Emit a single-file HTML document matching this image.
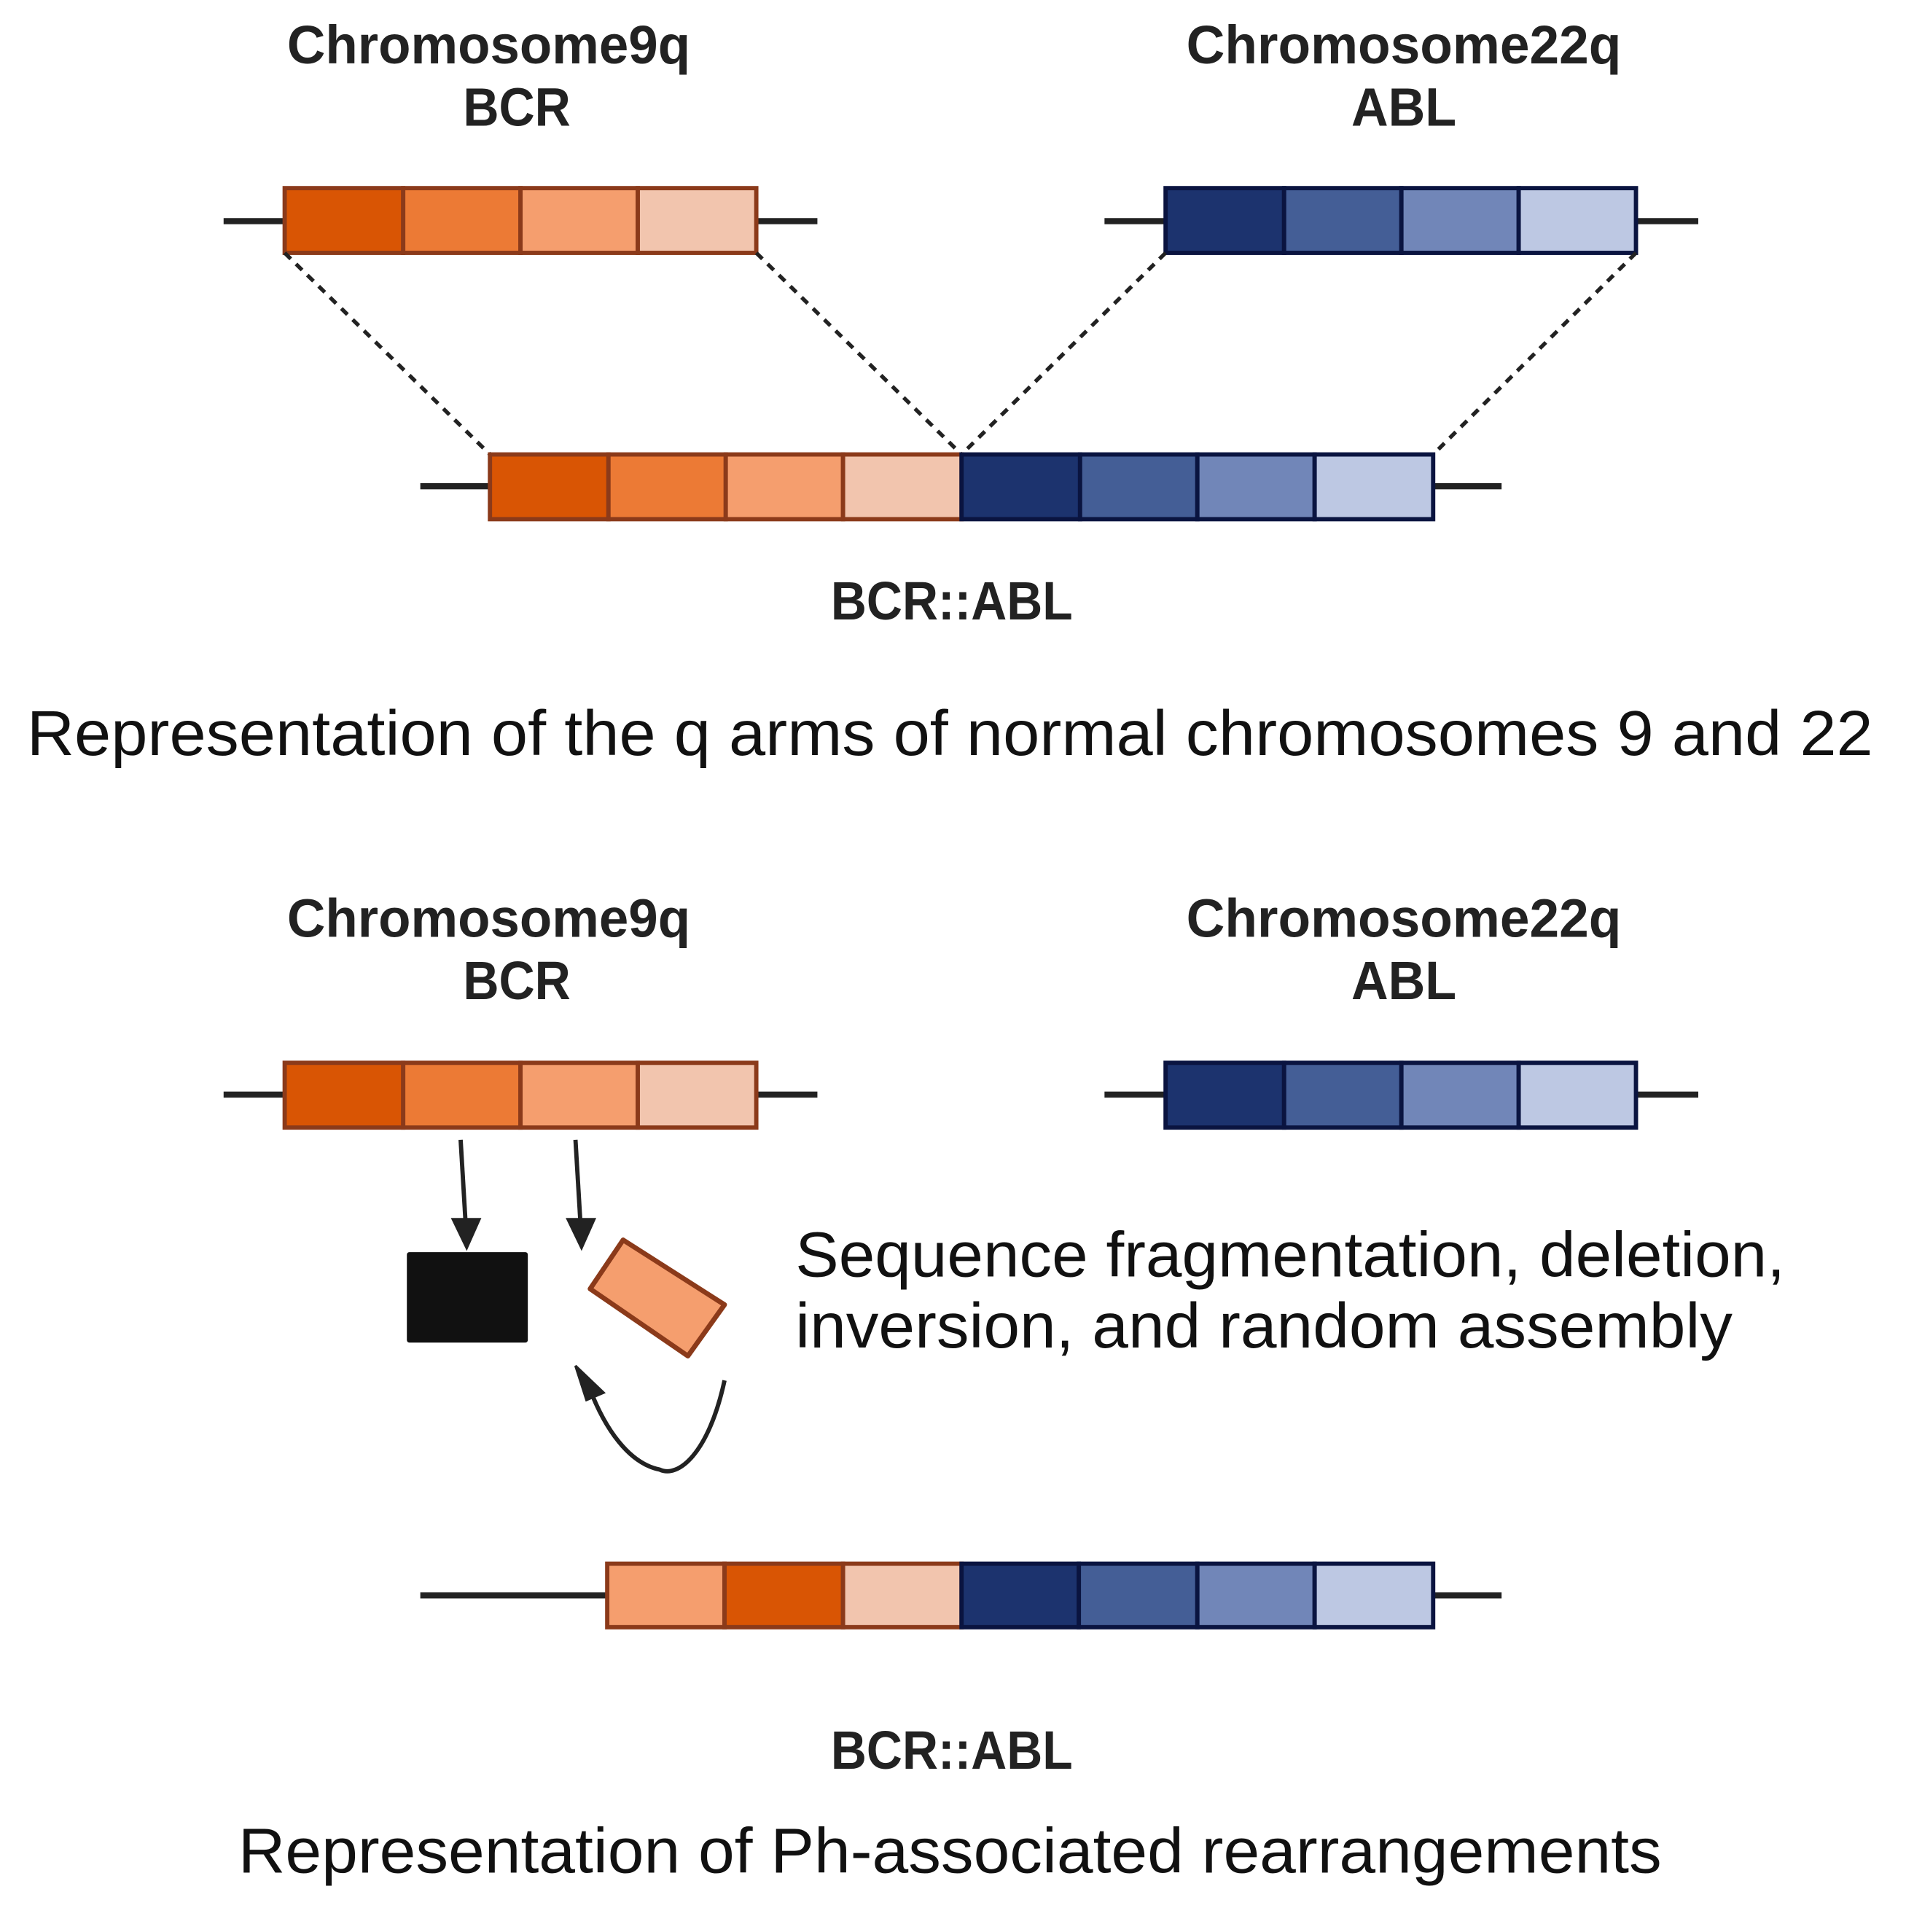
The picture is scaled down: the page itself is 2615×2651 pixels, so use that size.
<!DOCTYPE html>
<html><head><meta charset="utf-8"><style>
html,body{margin:0;padding:0;background:#fff;}
svg{display:block;}
.b{font-family:"Liberation Sans",sans-serif;font-weight:bold;fill:#222;font-size:44px;}
.n{font-family:"Liberation Sans",sans-serif;fill:#111;font-size:52px;}
</style></head><body>
<svg width="2615" height="2651" viewBox="0 0 1560 1581.5" xmlns="http://www.w3.org/2000/svg">
<rect width="1560" height="1581.5" fill="#fff"/>
<text class="b" x="400" y="52" text-anchor="middle" textLength="330" lengthAdjust="spacingAndGlyphs">Chromosome9q</text>
<text class="b" x="423" y="103" text-anchor="middle" textLength="88" lengthAdjust="spacingAndGlyphs">BCR</text>
<text class="b" x="1149" y="52" text-anchor="middle" textLength="356" lengthAdjust="spacingAndGlyphs">Chromosome22q</text>
<text class="b" x="1149" y="103" text-anchor="middle" textLength="86" lengthAdjust="spacingAndGlyphs">ABL</text>
<line x1="183" y1="181" x2="669" y2="181" stroke="#222" stroke-width="5"/>
<g stroke="#8B3A1A" stroke-width="3.5">
<rect x="233" y="154" width="97" height="53" fill="#D95504"/>
<rect x="330" y="154" width="96" height="53" fill="#EC7A35"/>
<rect x="426" y="154" width="96" height="53" fill="#F59E6E"/>
<rect x="522" y="154" width="97" height="53" fill="#F2C5AE"/>
</g>
<line x1="904" y1="181" x2="1390" y2="181" stroke="#222" stroke-width="5"/>
<g stroke="#0A1440" stroke-width="3.5">
<rect x="954" y="154" width="97" height="53" fill="#1C336E"/>
<rect x="1051" y="154" width="96" height="53" fill="#445E96"/>
<rect x="1147" y="154" width="96" height="53" fill="#7186B8"/>
<rect x="1243" y="154" width="96" height="53" fill="#BDC8E3"/>
</g>
<g stroke="#222" stroke-width="3.2" stroke-dasharray="7,6" fill="none">
<line x1="233" y1="207" x2="401" y2="372"/>
<line x1="619" y1="207" x2="787" y2="372"/>
<line x1="954" y1="207" x2="787" y2="372"/>
<line x1="1339" y1="207" x2="1173" y2="372"/>
</g>
<line x1="344" y1="398" x2="1229" y2="398" stroke="#222" stroke-width="5"/>
<g stroke="#8B3A1A" stroke-width="3.5">
<rect x="401" y="372" width="97" height="53" fill="#D95504"/>
<rect x="498" y="372" width="96" height="53" fill="#EC7A35"/>
<rect x="594" y="372" width="96" height="53" fill="#F59E6E"/>
<rect x="690" y="372" width="97" height="53" fill="#F2C5AE"/>
</g>
<g stroke="#0A1440" stroke-width="3.5">
<rect x="787" y="372" width="97" height="53" fill="#1C336E"/>
<rect x="884" y="372" width="96" height="53" fill="#445E96"/>
<rect x="980" y="372" width="96" height="53" fill="#7186B8"/>
<rect x="1076" y="372" width="97" height="53" fill="#BDC8E3"/>
</g>
<text class="b" x="779" y="507" text-anchor="middle" textLength="198" lengthAdjust="spacingAndGlyphs">BCR::ABL</text>
<text class="n" x="22" y="618" textLength="1511" lengthAdjust="spacingAndGlyphs">Representation of the q arms of normal chromosomes 9 and 22</text>

<text class="b" x="400" y="767" text-anchor="middle" textLength="330" lengthAdjust="spacingAndGlyphs">Chromosome9q</text>
<text class="b" x="423" y="818" text-anchor="middle" textLength="88" lengthAdjust="spacingAndGlyphs">BCR</text>
<text class="b" x="1149" y="767" text-anchor="middle" textLength="356" lengthAdjust="spacingAndGlyphs">Chromosome22q</text>
<text class="b" x="1149" y="818" text-anchor="middle" textLength="86" lengthAdjust="spacingAndGlyphs">ABL</text>
<line x1="183" y1="896" x2="669" y2="896" stroke="#222" stroke-width="5"/>
<g stroke="#8B3A1A" stroke-width="3.5">
<rect x="233" y="870" width="97" height="53" fill="#D95504"/>
<rect x="330" y="870" width="96" height="53" fill="#EC7A35"/>
<rect x="426" y="870" width="96" height="53" fill="#F59E6E"/>
<rect x="522" y="870" width="97" height="53" fill="#F2C5AE"/>
</g>
<line x1="904" y1="896" x2="1390" y2="896" stroke="#222" stroke-width="5"/>
<g stroke="#0A1440" stroke-width="3.5">
<rect x="954" y="870" width="97" height="53" fill="#1C336E"/>
<rect x="1051" y="870" width="96" height="53" fill="#445E96"/>
<rect x="1147" y="870" width="96" height="53" fill="#7186B8"/>
<rect x="1243" y="870" width="96" height="53" fill="#BDC8E3"/>
</g>
<g stroke="#222" stroke-width="3.5" fill="none">
<line x1="377" y1="933" x2="381" y2="1000"/>
<line x1="471" y1="933" x2="475" y2="1000"/>
</g>
<path d="M369,997 L394,997 L382,1024 z" fill="#222"/>
<path d="M463,997 L488,997 L476,1024 z" fill="#222"/>
<rect x="333" y="1025" width="99" height="74" fill="#111" rx="2"/>
<polygon points="510,1015 593,1068 563,1110 483,1055" fill="#F59E6E" stroke="#8B3A1A" stroke-width="4" stroke-linejoin="round"/>
<path d="M593,1130 C580,1190 555,1210 540,1203 C515,1198 495,1170 482,1135" fill="none" stroke="#222" stroke-width="3.5"/>
<path d="M471,1118 L494,1140 L480,1146 z" fill="#222" stroke="#222" stroke-width="2"/>
<text class="n" x="651" y="1045" textLength="810" lengthAdjust="spacingAndGlyphs">Sequence fragmentation, deletion,</text>
<text class="n" x="651" y="1103" textLength="767" lengthAdjust="spacingAndGlyphs">inversion, and random assembly</text>
<line x1="344" y1="1306" x2="1229" y2="1306" stroke="#222" stroke-width="5"/>
<g stroke="#8B3A1A" stroke-width="3.5">
<rect x="497" y="1280" width="96" height="52" fill="#F59E6E"/>
<rect x="593" y="1280" width="97" height="52" fill="#D95504"/>
<rect x="690" y="1280" width="97" height="52" fill="#F2C5AE"/>
</g>
<g stroke="#0A1440" stroke-width="3.5">
<rect x="787" y="1280" width="96" height="52" fill="#1C336E"/>
<rect x="883" y="1280" width="97" height="52" fill="#445E96"/>
<rect x="980" y="1280" width="96" height="52" fill="#7186B8"/>
<rect x="1076" y="1280" width="97" height="52" fill="#BDC8E3"/>
</g>
<text class="b" x="779" y="1448" text-anchor="middle" textLength="198" lengthAdjust="spacingAndGlyphs">BCR::ABL</text>
<text class="n" x="195" y="1533" textLength="1165" lengthAdjust="spacingAndGlyphs">Representation of Ph-associated rearrangements</text>
</svg>
</body></html>
